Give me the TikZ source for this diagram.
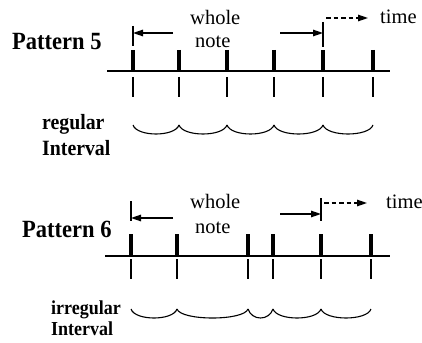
\documentclass[tikz,border=0pt]{standalone}
\usepackage{graphicx}
\usepackage{fontspec}
\setmainfont{Liberation Serif}
\usetikzlibrary{arrows.meta}
\newcommand\vstr[1]{\scalebox{1}[1.1]{#1}}
\begin{document}
\begin{tikzpicture}[x=1pt,y=-1pt,
  tickmark/.style={line width=3.5pt},
  guide/.style={line width=1.1pt},
  axis/.style={line width=1.9pt},
  arcline/.style={line width=1.1pt},
  bar/.style={line width=1.1pt},
  lbl/.style={font=\fontsize{20.5}{22}\selectfont, inner sep=0pt, anchor=base west},
  blbl/.style={font=\fontsize{19.8}{21}\selectfont\bfseries, inner sep=0pt, anchor=base west},
  sblbl/.style={font=\fontsize{18}{20}\selectfont\bfseries, inner sep=0pt, anchor=base west},
  plbl/.style={font=\fontsize{22.5}{24}\selectfont\bfseries, inner sep=0pt, anchor=base west},
  harr/.style={-{Triangle[length=10pt,width=6.5pt]}, line width=1.3pt},
  darr/.style={-{Triangle[length=10pt,width=6.5pt]}, line width=1.3pt, dash pattern=on 4.5pt off 3pt}
]
\useasboundingbox (0,0) rectangle (422,342);

% ---------------- Pattern 5 ----------------
\node[plbl] (p5) at (12,50) {\vstr{Pattern 5}};
\node[lbl] (w5) at (190,24.5) {whole};
\node[lbl] (n5) at (195,48) {note};
\node[lbl] (t5) at (380,24) {time};
\node[blbl] (r5) at (42,129.5) {\vstr{regular}};
\node[blbl] (i5) at (42,155) {\vstr{Interval}};

\coordinate (a5s) at (107,71);
\coordinate (a5e) at (390,71);
\draw[axis] (a5s) -- (a5e);

\foreach \n/\x in {1/133,2/179,3/227,4/274,5/323,6/373}{
  \coordinate (u5\n) at (\x,50);
  \coordinate (b5\n) at (\x,71);
  \coordinate (g5\n) at (\x,77);
  \coordinate (h5\n) at (\x,97);
  \coordinate (c5\n) at (\x,125);
  \draw[tickmark] (u5\n) -- (b5\n);
  \draw[guide] (g5\n) -- (h5\n);
}
\foreach \a/\b in {1/2,2/3,3/4,4/5,5/6}{
  \draw[arcline] (c5\a) .. controls ([shift={(4,12)}]c5\a) and ([shift={(-4,12)}]c5\b) .. (c5\b);
}

\coordinate (l5t) at (133,26);
\coordinate (l5b) at (133,46);
\coordinate (l5m) at (133,33);
\coordinate (l5s) at (173,33);
\draw[bar] (l5t) -- (l5b);
\draw[harr] (l5s) -- (l5m);

\coordinate (r5t) at (323,22);
\coordinate (r5b) at (323,47);
\coordinate (r5m) at (323,33);
\coordinate (r5s) at (280,33);
\draw[bar] (r5t) -- (r5b);
\draw[harr] (r5s) -- (r5m);

\coordinate (d5s) at (326,18);
\coordinate (d5e) at (368,18);
\draw[darr] (d5s) -- (d5e);

% ---------------- Pattern 6 ----------------
\node[plbl] (p6) at (22,237) {\vstr{Pattern 6}};
\node[lbl] (w6) at (190,208) {whole};
\node[lbl] (n6) at (195,233) {note};
\node[lbl] (t6) at (386,208) {time};
\node[sblbl] (r6) at (51,314.5) {\vstr{irregular}};
\node[sblbl] (i6) at (51,335) {\vstr{Interval}};

\coordinate (a6s) at (105,256);
\coordinate (a6e) at (390,256);
\draw[axis] (a6s) -- (a6e);

\foreach \n/\x in {1/131,2/177,3/248,4/273,5/321,6/371}{
  \coordinate (u6\n) at (\x,234);
  \coordinate (b6\n) at (\x,256);
  \coordinate (g6\n) at (\x,259);
  \coordinate (h6\n) at (\x,279);
  \coordinate (c6\n) at (\x,309);
  \draw[tickmark] (u6\n) -- (b6\n);
  \draw[guide] (g6\n) -- (h6\n);
}
\foreach \a/\b in {1/2,2/3,3/4,4/5,5/6}{
  \draw[arcline] (c6\a) .. controls ([shift={(4,12)}]c6\a) and ([shift={(-4,12)}]c6\b) .. (c6\b);
}

\coordinate (l6t) at (131,201);
\coordinate (l6b) at (131,221);
\coordinate (l6m) at (131,218);
\coordinate (l6s) at (173,218);
\draw[bar] (l6t) -- (l6b);
\draw[harr] (l6s) -- (l6m);

\coordinate (r6t) at (321,198);
\coordinate (r6b) at (321,221);
\coordinate (r6m) at (321,214);
\coordinate (r6s) at (280,214);
\draw[bar] (r6t) -- (r6b);
\draw[harr] (r6s) -- (r6m);

\coordinate (d6s) at (324,203);
\coordinate (d6e) at (367,203);
\draw[darr] (d6s) -- (d6e);
\end{tikzpicture}
\end{document}
